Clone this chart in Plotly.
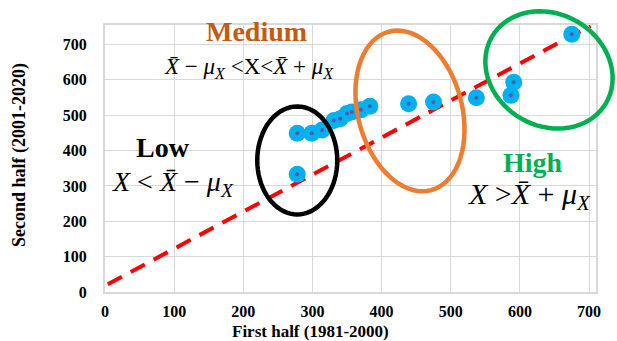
import numpy as np
import plotly.graph_objects as go

# ---- data ----
first_half = [278, 278, 299, 314, 331, 340, 350, 357, 370, 383, 439, 475, 537, 587, 591, 675]
second_half = [333, 449, 449, 458, 485, 490, 505, 509, 515, 525, 532, 537, 549, 556, 593, 729]
trend_x = [4, 702]
trend_y = [22, 753]
x_ticks = [0, 100, 200, 300, 400, 500, 600, 700]
y_ticks = [0, 100, 200, 300, 400, 500, 600, 700]

W, H = 617, 341
ML, MR, MT, MB = 105, 21, 25, 49
PW, PH = W - ML - MR, H - MT - MB
XR = [0, 710]
YR = [0, 755]

SERIF = "Liberation Serif"

def ellipse_path(cx, cy, a, b, ang_deg):
    # centre in data units; a, b in pixels; ang = screen angle of major axis
    # returns an SVG path in paper coordinates (so it is not clipped by the plot area)
    t = np.linspace(0, 2 * np.pi, 73)
    th = np.radians(ang_deg)
    ux, uy = np.cos(th), np.sin(th)
    vx, vy = -np.sin(th), np.cos(th)
    dx = a * np.cos(t) * ux + b * np.sin(t) * vx
    dy = a * np.cos(t) * uy + b * np.sin(t) * vy
    pcx = (cx - XR[0]) / (XR[1] - XR[0])
    pcy = (cy - YR[0]) / (YR[1] - YR[0])
    xs = pcx + dx / PW
    ys = pcy - dy / PH
    return "M %f,%f " % (xs[0], ys[0]) + " ".join("L %f,%f" % (x, y) for x, y in zip(xs[1:], ys[1:])) + " Z"

fig = go.Figure()
fig.add_trace(go.Scatter(x=trend_x, y=trend_y, mode="lines",
                         line=dict(color="#FF0000", width=4, dash="16px,10px"),
                         hoverinfo="skip", showlegend=False))
fig.add_trace(go.Scatter(x=first_half, y=second_half, mode="markers",
                         marker=dict(color="#00B0F0", size=17, line=dict(width=0)),
                         showlegend=False))
fig.add_trace(go.Scatter(x=first_half, y=second_half, mode="markers",
                         marker=dict(color="#5B57A8", size=4, line=dict(width=0)),
                         showlegend=False, hoverinfo="skip"))

shapes = [
    dict(type="path", path=ellipse_path(278, 372, 54, 40, 90), xref="paper", yref="paper",
         line=dict(color="black", width=4.5)),
    dict(type="path", path=ellipse_path(441, 512, 82, 52, -105), xref="paper", yref="paper",
         line=dict(color="#ED7D31", width=4.5)),
    dict(type="path", path=ellipse_path(642, 628, 66, 56, 30), xref="paper", yref="paper",
         line=dict(color="#00B050", width=4.5)),
]

XB = "X\u0304"
def mu():
    return "\u03bc<sub>X</sub>"

annotations = [
    dict(text="<b>Medium</b>", x=256, y=31, font=dict(family=SERIF, size=28, color="#C55A11")),
    dict(text=f"<i>{XB}</i> \u2212 <i>{mu()}</i> &lt;X&lt;<i>{XB}</i> + <i>{mu()}</i>", x=249, y=68,
         font=dict(family=SERIF, size=23, color="black")),
    dict(text="<b>Low</b>", x=163, y=147, font=dict(family=SERIF, size=28, color="black")),
    dict(text=f"<i>X</i> &lt; <i>{XB}</i> \u2212 <i>{mu()}</i>", x=173, y=183,
         font=dict(family=SERIF, size=28, color="black")),
    dict(text="<b>High</b>", x=533, y=162, font=dict(family=SERIF, size=28, color="#00B050")),
    dict(text=f"<i>X</i> &gt;<i>{XB}</i> + <i>{mu()}</i>", x=529, y=196,
         font=dict(family=SERIF, size=30, color="black")),
    dict(text="<b>First half (1981-2000)</b>", x=310, y=331.5, font=dict(family=SERIF, size=17, color="black")),
    dict(text="<b>Second half (2001-2020)</b>", x=19, y=155, textangle=-90,
         font=dict(family=SERIF, size=18, color="black")),
]
for a in annotations:
    a.update(xref="paper", yref="paper", showarrow=False, xanchor="center", yanchor="middle")
    a["x"] = (a["x"] - ML) / PW
    a["y"] = 1 - (a["y"] - MT) / PH

tickfont = dict(family=SERIF, size=16, color="black", weight="bold")
fig.update_layout(
    width=W, height=H, margin=dict(l=ML, r=MR, t=MT, b=MB),
    paper_bgcolor="white", plot_bgcolor="white",
    shapes=shapes, annotations=annotations,
    xaxis=dict(range=XR, tickvals=x_ticks, showgrid=True, gridcolor="#D9D9D9", gridwidth=1,
               zeroline=False, showline=True, linecolor="#D9D9D9", linewidth=2, mirror=True,
               tickfont=tickfont, ticks="", ticklabelstandoff=4, automargin=False),
    yaxis=dict(range=YR, tickvals=y_ticks, showgrid=True, gridcolor="#D9D9D9", gridwidth=1,
               zeroline=False, showline=True, linecolor="#D9D9D9", linewidth=2, mirror=True,
               tickfont=tickfont, ticks="", ticklabelstandoff=13, automargin=False),
    font=dict(family=SERIF),
)

fig.write_html("out.html", config={"displayModeBar": False},
               post_script="document.body.style.margin='0';document.body.style.overflow='hidden';")
